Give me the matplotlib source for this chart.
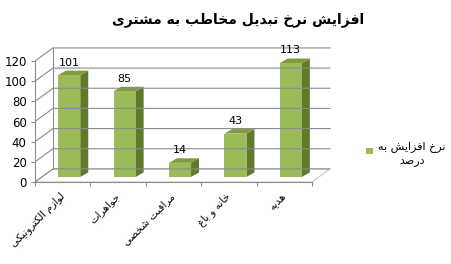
import matplotlib
matplotlib.use("Agg")
import matplotlib.pyplot as plt
from matplotlib.patches import Polygon

# data
title = "افزایش نرخ تبدیل مخاطب به مشتری"
categories = ["لوازم الکترونیکی", "جواهرات", "مراقبت شخصی", "خانه و باغ", "هدیه"]
values = [101, 85, 14, 43, 113]
series_name = ["نرخ افزایش به", "درصد"]
yticks = [0, 20, 40, 60, 80, 100, 120]

# minimal arabic/persian shaping: isolated, final, initial, medial
forms = {
    "ا": ("\uFE8D", "\uFE8E", None, None),
    "ب": ("\uFE8F", "\uFE90", "\uFE91", "\uFE92"),
    "ت": ("\uFE95", "\uFE96", "\uFE97", "\uFE98"),
    "ج": ("\uFE9D", "\uFE9E", "\uFE9F", "\uFEA0"),
    "خ": ("\uFEA5", "\uFEA6", "\uFEA7", "\uFEA8"),
    "د": ("\uFEA9", "\uFEAA", None, None),
    "ر": ("\uFEAD", "\uFEAE", None, None),
    "ز": ("\uFEAF", "\uFEB0", None, None),
    "ش": ("\uFEB5", "\uFEB6", "\uFEB7", "\uFEB8"),
    "ص": ("\uFEB9", "\uFEBA", "\uFEBB", "\uFEBC"),
    "ط": ("\uFEC1", "\uFEC2", "\uFEC3", "\uFEC4"),
    "غ": ("\uFECD", "\uFECE", "\uFECF", "\uFED0"),
    "ف": ("\uFED1", "\uFED2", "\uFED3", "\uFED4"),
    "ق": ("\uFED5", "\uFED6", "\uFED7", "\uFED8"),
    "ل": ("\uFEDD", "\uFEDE", "\uFEDF", "\uFEE0"),
    "م": ("\uFEE1", "\uFEE2", "\uFEE3", "\uFEE4"),
    "ن": ("\uFEE5", "\uFEE6", "\uFEE7", "\uFEE8"),
    "ه": ("\uFEE9", "\uFEEA", "\uFEEB", "\uFEEC"),
    "و": ("\uFEED", "\uFEEE", None, None),
    "ی": ("\uFBFC", "\uFBFD", "\uFBFE", "\uFBFF"),
    "ک": ("\uFB8E", "\uFB8F", "\uFB90", "\uFB91"),
}

def joins_next(ch):
    return ch in forms and forms[ch][2] is not None

def fa(s):
    out = []
    for i, ch in enumerate(s):
        if ch not in forms:
            out.append(ch)
            continue
        prev = s[i - 1] if i > 0 else ""
        nxt = s[i + 1] if i + 1 < len(s) else ""
        p = joins_next(prev)
        n = joins_next(ch) and nxt in forms
        f = forms[ch]
        if p and n:
            out.append(f[3])
        elif p:
            out.append(f[1])
        elif n:
            out.append(f[2])
        else:
            out.append(f[0])
    return "".join(out)[::-1]

plt.rcParams["font.family"] = ["DejaVu Sans"]

fig = plt.figure(figsize=(4.51, 2.64), dpi=100)
ax = fig.add_axes([35 / 451, 82 / 264, 300 / 451, 142 / 264])
ax.set_xlim(-0.5, -0.5 + 300 / 55.4)
ax.set_ylim(0, 142 / 1.008)

wdx, wdy = 0.325, 13      # wall depth
bdx, bdy = 0.117, 5       # bar position inside depth
sdx, sdy = 0.144, 4.5     # bar own depth
bw = 0.4
grid_c = "#8c8c8c"
n = len(categories)

# floor
ax.add_patch(Polygon([(-0.5, 0), (n - 0.5, 0), (n - 0.5 + wdx, wdy), (-0.5 + wdx, wdy)],
                     closed=True, fc="none", ec="#c8c8c8", lw=0.8))
# walls / gridlines
for v in yticks:
    ax.plot([-0.5, -0.5 + wdx, n - 0.5 + wdx], [v, v + wdy, v + wdy], color=grid_c, lw=0.8)
ax.plot([-0.5 + wdx, -0.5 + wdx], [wdy, yticks[-1] + wdy], color=grid_c, lw=0.8)

# bars
front_c, top_c, side_c = "#9bbb59", "#7f9c3f", "#5f7a2a"
for i, v in enumerate(values):
    x0 = i - bw / 2 + bdx
    x1 = x0 + bw
    y0 = bdy
    y1 = v + bdy
    ax.add_patch(Polygon([(x1, y0), (x1 + sdx, y0 + sdy), (x1 + sdx, y1 + sdy), (x1, y1)],
                         closed=True, fc=side_c, ec="none"))
    ax.add_patch(Polygon([(x0, y1), (x1, y1), (x1 + sdx, y1 + sdy), (x0 + sdx, y1 + sdy)],
                         closed=True, fc=top_c, ec="none"))
    ax.add_patch(Polygon([(x0, y0), (x1, y0), (x1, y1), (x0, y1)],
                         closed=True, fc=front_c, ec="none"))
    ax.text(i + bdx, y1 + sdy + 3, str(v), ha="center", va="bottom", fontsize=8)

# axes
for s in ["top", "right"]:
    ax.spines[s].set_visible(False)
ax.spines["left"].set_bounds(0, yticks[-1])
ax.spines["bottom"].set_bounds(-0.5, n - 0.5)
for s in ["left", "bottom"]:
    ax.spines[s].set_color(grid_c)
    ax.spines[s].set_linewidth(0.8)
ax.set_yticks(yticks)
ax.set_yticklabels([str(t) for t in yticks], fontsize=8.5)
ax.set_xticks([i - 0.5 for i in range(n + 1)])
ax.set_xticklabels([])
ax.set_xticks(range(n), minor=True)
ax.set_xticklabels([fa(c) for c in categories], minor=True, rotation=45,
                   ha="right", va="center", rotation_mode="anchor", fontsize=7.5)
ax.tick_params(axis="both", which="major", color=grid_c, length=3, width=0.8, pad=3)
ax.tick_params(axis="x", which="minor", length=0, pad=9)
ax.patch.set_visible(False)

fig.text(238 / 451, 1 - 20 / 264, fa(title), ha="center", va="center",
         fontsize=10, fontweight="bold")

# legend
fig.patches.append(plt.Rectangle((366 / 451, 1 - 154 / 264), 7 / 451, 6 / 264,
                                 transform=fig.transFigure, fc=front_c, ec="none"))
fig.text(412 / 451, 1 - 147 / 264, fa(series_name[0]), ha="center", va="center", fontsize=8)
fig.text(412 / 451, 1 - 161 / 264, fa(series_name[1]), ha="center", va="center", fontsize=8)

fig.savefig("out.png", dpi=100)
